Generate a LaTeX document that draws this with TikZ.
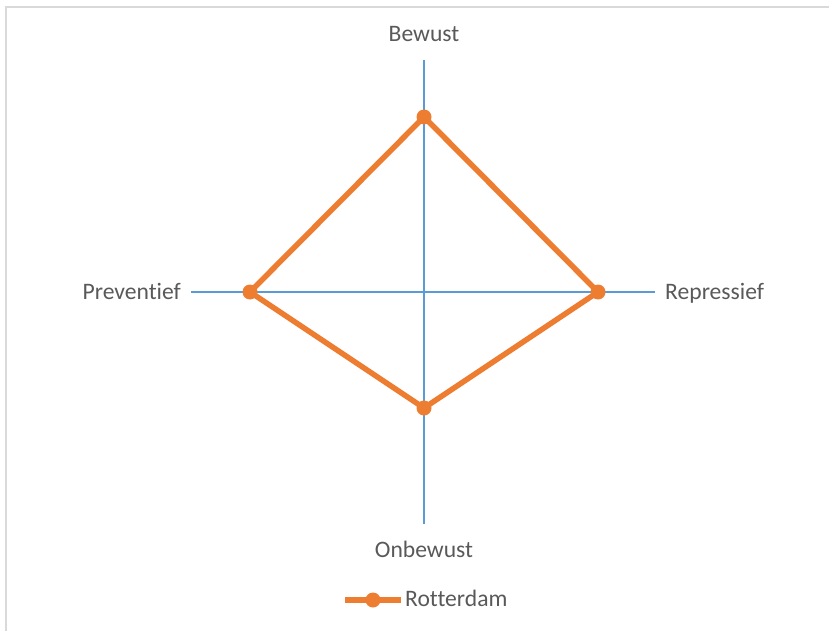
\documentclass[tikz,border=0pt]{standalone}
\usepackage{fontspec}
\setmainfont[Ligatures=NoCommon]{Carlito}
\usepackage{tikz}
\definecolor{axis}{RGB}{91,155,213}
\definecolor{series}{RGB}{237,125,49}
\definecolor{labeltext}{RGB}{89,89,89}
\definecolor{frame}{RGB}{217,217,217}

\begin{document}
\begin{tikzpicture}[x=1pt,y=-1pt, every node/.style={text=labeltext,font=\fontsize{23.6}{28}\selectfont}]
	\useasboundingbox (0,0) rectangle (829,631);
	\draw[frame,line width=1.5] (829,7) -- (6,7) -- (6,631);

	\coordinate (a1) at (424,60);
	\coordinate (a2) at (424,524);
	\coordinate (a3) at (191,292);
	\coordinate (a4) at (655,292);
	\coordinate (l1) at (345,600);
	\coordinate (l2) at (401,600);

	\draw[axis,line width=1.5] (a1) to[] (a2);
	\draw[axis,line width=1.5] (a3) to[] (a4);

	\node (d1) at (424,117) [circle,fill=series,inner sep=0,minimum size=15] {};
	\node (d2) at (598,292) [circle,fill=series,inner sep=0,minimum size=15] {};
	\node (d3) at (424,408) [circle,fill=series,inner sep=0,minimum size=15] {};
	\node (d4) at (250,292) [circle,fill=series,inner sep=0,minimum size=15] {};
	\node (d5) at (373,600) [circle,fill=series,inner sep=0,minimum size=15] {};

	\draw[series,line width=5.5,line join=round] (d1.center) to[] (d2.center) to[] (d3.center) to[] (d4.center) -- cycle;
	\draw[series,line width=5.5] (l1) to[] (d5.center) to[] (l2);

	\node (t1) at (424,41.6) [anchor=base,inner sep=0] {Bewust};
	\node (t2) at (665,299.5) [anchor=base west,inner sep=0] {Repressief};
	\node (t3) at (424,557) [anchor=base,inner sep=0] {Onbewust};
	\node (t4) at (181,299.5) [anchor=base east,inner sep=0] {Preventief};
	\node (t5) at (405,606) [anchor=base west,inner sep=0] {Rotterdam};
\end{tikzpicture}
\end{document}
